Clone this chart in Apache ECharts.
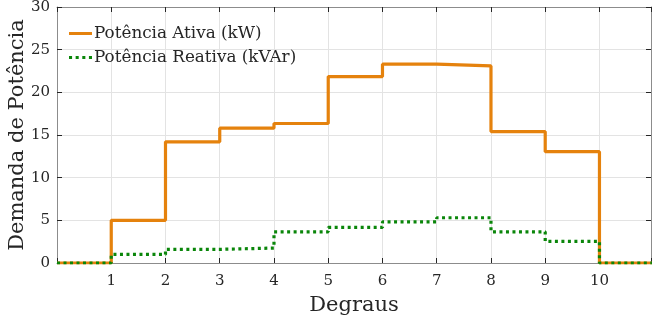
<!DOCTYPE html>
<html><head><meta charset="utf-8">
<script src="https://cdn.jsdelivr.net/npm/echarts@6/dist/echarts.min.js"></script>
<style>html,body{margin:0;padding:0;background:#fff}#c{width:652px;height:323px}</style>
</head><body><div id="c"></div>
<script>
const degraus = [0,1,2,3,4,5,6,7,8,9,10,11];
const potAtiva = [0,5,14.2,15.8,16.35,21.85,23.3,23.1,15.4,13.05,0,0];
const potReativa = [0,1.0,1.6,1.75,3.65,4.17,4.83,5.3,3.65,2.53,0,0];
const nomeAtiva = 'Potência Ativa (kW)';
const nomeReativa = 'Potência Reativa (kVAr)';
const xName = 'Degraus';
const yName = 'Demanda de Potência';

const FONT = 'DejaVu Serif';
const TXT = '#262626';
const chart = echarts.init(document.getElementById('c'), null, {renderer:'canvas'});
const axisCommon = {
  axisLine:{show:true, onZero:false, lineStyle:{color:'#8c8c8c', width:1}},
  axisTick:{show:true, inside:true, length:5, lineStyle:{color:'#262626'}},
  splitLine:{show:false}
};
const gridLine = {show:true, lineStyle:{color:'#e3e3e3', width:1}};
chart.setOption({
  animation:false,
  backgroundColor:'#fff',
  grid:{left:57, right:1, top:7, bottom:60, containLabel:false, outerBoundsMode:'none'},
  legend:{
    left:69, top:25, padding:0, orient:'vertical', itemGap:7, itemWidth:23, itemHeight:12,
    textStyle:{fontFamily:FONT, fontSize:16.8, color:TXT, padding:[0,0,0,-3]},
    data:[
      {name:nomeAtiva, icon:'path://M0,5H23V8H0Z'},
      {name:nomeReativa, icon:'path://M0,5H3V8H0ZM6.5,5H9.5V8H6.5ZM13,5H16V8H13ZM19.5,5H22.5V8H19.5Z'}
    ]
  },
  xAxis:[
    Object.assign({type:'value', min:0, max:10.95, interval:1, position:'bottom',
      name:xName, nameLocation:'middle', nameGap:32, nameMoveOverlap:false,
      nameTextStyle:{fontFamily:FONT, fontSize:21, color:TXT},
      axisLabel:{fontFamily:FONT, fontSize:15, color:TXT, margin:11,
        formatter:v=> (v>=1 && v<=10 && Number.isInteger(v)) ? String(v) : ''}},
      axisCommon, {splitLine:gridLine}),
    Object.assign({type:'value', min:0, max:10.95, interval:1, position:'top',
      axisLabel:{show:false}}, axisCommon)
  ],
  yAxis:[
    Object.assign({type:'value', min:0, max:30, interval:5, position:'left',
      name:yName, nameLocation:'middle', nameGap:29, nameRotate:90, nameMoveOverlap:false,
      nameTextStyle:{fontFamily:FONT, fontSize:21, color:TXT},
      axisLabel:{fontFamily:FONT, fontSize:15, color:TXT, margin:7}},
      axisCommon, {splitLine:gridLine}),
    Object.assign({type:'value', min:0, max:30, interval:5, position:'right',
      axisLabel:{show:false}}, axisCommon)
  ],
  series:[
    {name:nomeAtiva, type:'line', step:'end', symbol:'none', clip:true,
     color:'#E5820D',
     lineStyle:{color:'#E5820D', width:3.2},
     data:degraus.map((x,i)=>[x, potAtiva[i]])},
    {name:nomeReativa, type:'line', step:'end', symbol:'none', clip:true,
     color:'#0A860A',
     lineStyle:{color:'#0A860A', width:3.2, type:[3,3.5], cap:'butt'},
     data:degraus.map((x,i)=>[x, potReativa[i]])}
  ]
});
</script></body></html>
